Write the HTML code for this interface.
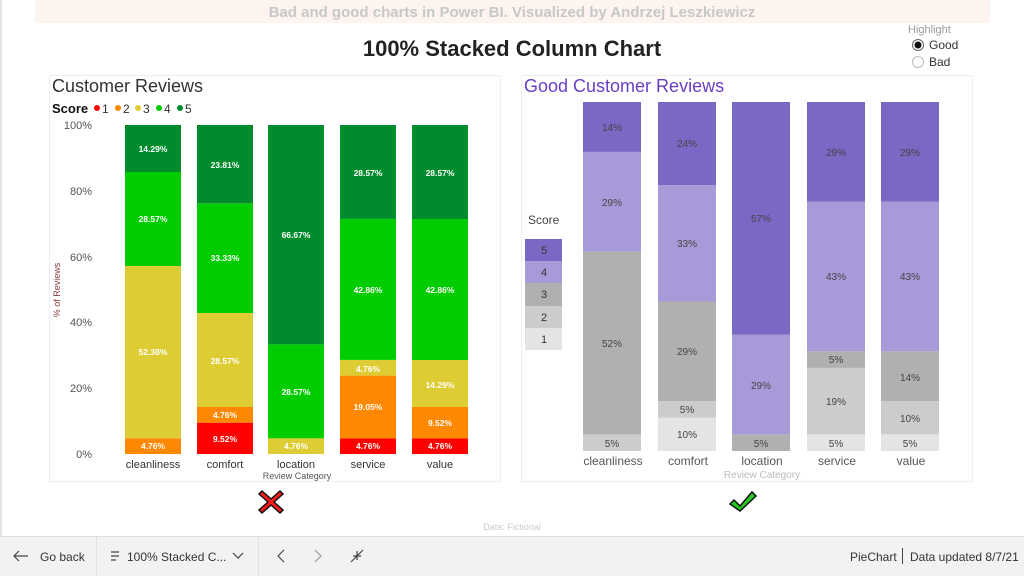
<!DOCTYPE html>
<html><head><meta charset="utf-8"><style>
html,body{margin:0;padding:0;width:1024px;height:576px;overflow:hidden;background:#fff;font-family:"Liberation Sans",sans-serif}
svg{display:block}
</style></head><body>
<svg width="1024" height="576" viewBox="0 0 1024 576" xmlns="http://www.w3.org/2000/svg" font-family="Liberation Sans, sans-serif">
<rect x="0" y="0" width="1024" height="576" fill="#fff"/>
<rect x="0" y="0" width="2" height="536" fill="#e6e6e6"/>
<rect x="35" y="0" width="955" height="23" fill="#fdf3ef"/>
<text x="512" y="17" text-anchor="middle" font-size="15" font-weight="bold" fill="#c8c8c8">Bad and good charts in Power BI. Visualized by Andrzej Leszkiewicz</text>
<text x="512" y="56" text-anchor="middle" font-size="22" font-weight="bold" fill="#222">100% Stacked Column Chart</text>
<text x="908" y="33" font-size="11" fill="#999">Highlight</text>
<circle cx="918" cy="45" r="5.5" fill="#fff" stroke="#666"/><circle cx="918" cy="45" r="3.5" fill="#111"/>
<text x="929" y="49" font-size="12" fill="#333">Good</text>
<circle cx="918" cy="62" r="5.5" fill="#fff" stroke="#bbb"/>
<text x="929" y="66" font-size="12" fill="#333">Bad</text>

<!-- Left panel -->
<rect x="49.5" y="75.5" width="451" height="406" fill="none" stroke="#eee"/>
<text x="52" y="92" font-size="18" fill="#333">Customer Reviews</text>
<text x="52" y="113" font-size="13" font-weight="bold" fill="#111">Score</text>
<circle cx="97" cy="108" r="3" fill="#ff0000"/><text x="102" y="113" font-size="12" fill="#333">1</text>
<circle cx="118" cy="108" r="3" fill="#ff8800"/><text x="123" y="113" font-size="12" fill="#333">2</text>
<circle cx="138" cy="108" r="3" fill="#ddcc33"/><text x="143" y="113" font-size="12" fill="#333">3</text>
<circle cx="159" cy="108" r="3" fill="#00cc00"/><text x="164" y="113" font-size="12" fill="#333">4</text>
<circle cx="180" cy="108" r="3" fill="#008c2c"/><text x="185" y="113" font-size="12" fill="#333">5</text>
<g font-size="11" fill="#555" text-anchor="end">
<text x="92" y="129">100%</text><text x="92" y="195">80%</text><text x="92" y="261">60%</text><text x="92" y="326">40%</text><text x="92" y="392">20%</text><text x="92" y="458">0%</text>
</g>
<text transform="translate(60,290) rotate(-90)" text-anchor="middle" font-size="9" fill="#8b3a3a">% of Reviews</text>
<g>
<rect x="125" y="438.3" width="56" height="15.7" fill="#ff8800"/>
<rect x="125" y="266" width="56" height="172.3" fill="#ddcc33"/>
<rect x="125" y="172" width="56" height="94" fill="#00cc00"/>
<rect x="125" y="125" width="56" height="47" fill="#008c2c"/>
<rect x="197" y="422.7" width="56" height="31.3" fill="#ff0000"/>
<rect x="197" y="407" width="56" height="15.7" fill="#ff8800"/>
<rect x="197" y="313" width="56" height="94" fill="#ddcc33"/>
<rect x="197" y="203.3" width="56" height="109.7" fill="#00cc00"/>
<rect x="197" y="125" width="56" height="78.3" fill="#008c2c"/>
<rect x="268" y="438.3" width="56" height="15.7" fill="#ddcc33"/>
<rect x="268" y="344.3" width="56" height="94" fill="#00cc00"/>
<rect x="268" y="125" width="56" height="219.3" fill="#008c2c"/>
<rect x="340" y="438.3" width="56" height="15.7" fill="#ff0000"/>
<rect x="340" y="375.6" width="56" height="62.7" fill="#ff8800"/>
<rect x="340" y="359.9" width="56" height="15.7" fill="#ddcc33"/>
<rect x="340" y="218.9" width="56" height="141" fill="#00cc00"/>
<rect x="340" y="125" width="56" height="93.9" fill="#008c2c"/>
<rect x="412" y="438.3" width="56" height="15.7" fill="#ff0000"/>
<rect x="412" y="407" width="56" height="31.3" fill="#ff8800"/>
<rect x="412" y="360" width="56" height="47" fill="#ddcc33"/>
<rect x="412" y="219" width="56" height="141" fill="#00cc00"/>
<rect x="412" y="125" width="56" height="94" fill="#008c2c"/>
</g>
<g font-size="8.5" font-weight="bold" fill="#fff" text-anchor="middle">
<text x="153" y="449">4.76%</text><text x="153" y="355">52.38%</text><text x="153" y="222">28.57%</text><text x="153" y="152">14.29%</text>
<text x="225" y="442">9.52%</text><text x="225" y="418">4.76%</text><text x="225" y="364">28.57%</text><text x="225" y="261">33.33%</text><text x="225" y="168">23.81%</text>
<text x="296" y="449">4.76%</text><text x="296" y="395">28.57%</text><text x="296" y="238">66.67%</text>
<text x="368" y="449">4.76%</text><text x="368" y="410">19.05%</text><text x="368" y="372">4.76%</text><text x="368" y="293">42.86%</text><text x="368" y="176">28.57%</text>
<text x="440" y="449">4.76%</text><text x="440" y="426">9.52%</text><text x="440" y="388">14.29%</text><text x="440" y="293">42.86%</text><text x="440" y="176">28.57%</text>
</g>
<g font-size="11" fill="#333" text-anchor="middle">
<text x="153" y="468">cleanliness</text><text x="225" y="468">comfort</text><text x="296" y="468">location</text><text x="368" y="468">service</text><text x="440" y="468">value</text>
</g>
<text x="297" y="479" text-anchor="middle" font-size="9" fill="#555">Review Category</text>

<!-- Right panel -->
<rect x="521.5" y="75.5" width="451" height="406" fill="none" stroke="#eee"/>
<text x="524" y="92" font-size="18" fill="#6a3fc4">Good Customer Reviews</text>
<text x="528" y="224" font-size="12" fill="#444">Score</text>
<rect x="525" y="239" width="37" height="22" fill="#7b68c4"/><text x="544" y="254" text-anchor="middle" font-size="11" fill="#333">5</text>
<rect x="525" y="261" width="37" height="22" fill="#a89ad8"/><text x="544" y="276" text-anchor="middle" font-size="11" fill="#333">4</text>
<rect x="525" y="283" width="37" height="23" fill="#b0b0b0"/><text x="544" y="298" text-anchor="middle" font-size="11" fill="#333">3</text>
<rect x="525" y="306" width="37" height="22" fill="#cccccc"/><text x="544" y="321" text-anchor="middle" font-size="11" fill="#333">2</text>
<rect x="525" y="328" width="37" height="22" fill="#e4e4e4"/><text x="544" y="343" text-anchor="middle" font-size="11" fill="#333">1</text>
<g>
<rect x="583" y="434.4" width="58" height="16.6" fill="#cccccc"/>
<rect x="583" y="251.6" width="58" height="182.8" fill="#b0b0b0"/>
<rect x="583" y="151.9" width="58" height="99.7" fill="#a89ad8"/>
<rect x="583" y="102" width="58" height="49.9" fill="#7b68c4"/>
<rect x="658" y="417.8" width="58" height="33.2" fill="#e4e4e4"/>
<rect x="658" y="401.2" width="58" height="16.6" fill="#cccccc"/>
<rect x="658" y="301.5" width="58" height="99.7" fill="#b0b0b0"/>
<rect x="658" y="185.2" width="58" height="116.3" fill="#a89ad8"/>
<rect x="658" y="102" width="58" height="83.2" fill="#7b68c4"/>
<rect x="732" y="434.4" width="58" height="16.6" fill="#b0b0b0"/>
<rect x="732" y="334.7" width="58" height="99.7" fill="#a89ad8"/>
<rect x="732" y="102" width="58" height="232.7" fill="#7b68c4"/>
<rect x="807" y="434.4" width="58" height="16.6" fill="#e4e4e4"/>
<rect x="807" y="367.9" width="58" height="66.5" fill="#cccccc"/>
<rect x="807" y="351.3" width="58" height="16.6" fill="#b0b0b0"/>
<rect x="807" y="201.7" width="58" height="149.6" fill="#a89ad8"/>
<rect x="807" y="102" width="58" height="99.7" fill="#7b68c4"/>
<rect x="881" y="434.4" width="58" height="16.6" fill="#e4e4e4"/>
<rect x="881" y="401.2" width="58" height="33.2" fill="#cccccc"/>
<rect x="881" y="351.3" width="58" height="49.9" fill="#b0b0b0"/>
<rect x="881" y="201.7" width="58" height="149.6" fill="#a89ad8"/>
<rect x="881" y="102" width="58" height="99.7" fill="#7b68c4"/>
</g>
<g font-size="10" fill="#444" text-anchor="middle">
<text x="612" y="447">5%</text><text x="612" y="347">52%</text><text x="612" y="206">29%</text><text x="612" y="131">14%</text>
<text x="687" y="438">10%</text><text x="687" y="413">5%</text><text x="687" y="355">29%</text><text x="687" y="247">33%</text><text x="687" y="147">24%</text>
<text x="761" y="447">5%</text><text x="761" y="389">29%</text><text x="761" y="222">67%</text>
<text x="836" y="447">5%</text><text x="836" y="405">19%</text><text x="836" y="363">5%</text><text x="836" y="280">43%</text><text x="836" y="156">29%</text>
<text x="910" y="447">5%</text><text x="910" y="422">10%</text><text x="910" y="381">14%</text><text x="910" y="280">43%</text><text x="910" y="156">29%</text>
</g>
<g font-size="12" fill="#555" text-anchor="middle">
<text x="613" y="465">cleanliness</text><text x="688" y="465">comfort</text><text x="762" y="465">location</text><text x="837" y="465">service</text><text x="911" y="465">value</text>
</g>
<text x="762" y="478" text-anchor="middle" font-size="10" fill="#bbb">Review Category</text>

<!-- marks -->
<g transform="translate(271,502)">
<path d="M-9,-11 L0,-3 L9,-11 L12,-8 L3,0 L12,8 L9,11 L0,3 L-9,11 L-12,8 L-3,0 L-12,-8 Z" fill="#ff1a1a" stroke="#111" stroke-width="1.5"/>
</g>
<path d="M734,500 L740,506 L752,492 L756,496 L740,511 L730,504 Z" fill="#22cc22" stroke="#111" stroke-width="1.5"/>
<text x="512" y="530" text-anchor="middle" font-size="9" fill="#ccc">Data: Fictional</text>

<!-- footer -->
<rect x="0" y="536" width="1024" height="40" fill="#f3f2f1"/>
<rect x="0" y="536" width="1024" height="1" fill="#e1dfdd"/>
<rect x="96" y="537" width="1" height="39" fill="#e1dfdd"/>
<rect x="258" y="537" width="1" height="39" fill="#e1dfdd"/>
<g stroke="#444" stroke-width="1.2" fill="none">
<path d="M14,556 L28,556 M19,551 L14,556 L19,561"/>
<path d="M111,552 h8 M111,556 h8 M111,560 h5"/>
<path d="M233,553 L238,558 L243,553"/>
<path d="M284,550 L278,556 L284,562"/>
<path d="M315,550 L321,556 L315,562" stroke="#999"/>
<path d="M351,562 L357,556 M353,556 h4 v4 M363,550 L357,556 M357,551 v5 h4"/>
</g>
<text x="40" y="561" font-size="12" fill="#333">Go back</text>
<text x="127" y="561" font-size="12" fill="#333">100% Stacked C...</text>
<text x="850" y="561" font-size="12" fill="#333">PieChart</text>
<rect x="902" y="548" width="1" height="16" fill="#444"/>
<text x="910" y="561" font-size="12" fill="#333">Data updated 8/7/21</text>
</svg>
</body></html>
